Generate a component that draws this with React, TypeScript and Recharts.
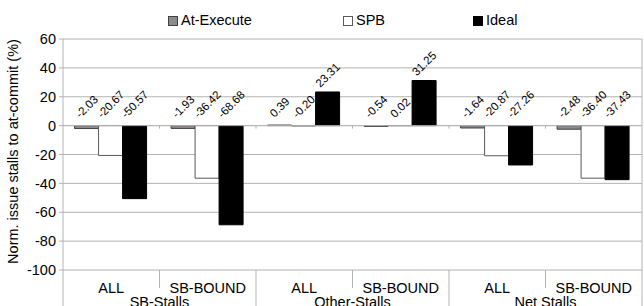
import React from 'react';
import { BarChart, Bar, XAxis, YAxis, CartesianGrid, ReferenceLine, LabelList } from 'recharts';

const groups = ['SB-Stalls', 'Other-Stalls', 'Net Stalls'];
const subCategories = ['ALL', 'SB-BOUND', 'ALL', 'SB-BOUND', 'ALL', 'SB-BOUND'];
const atExecute = [-2.03, -1.93, 0.39, -0.54, -1.64, -2.48];
const spb = [-20.67, -36.42, -0.2, 0.02, -20.87, -36.4];
const ideal = [-50.57, -68.68, 23.31, 31.25, -27.26, -37.43];
const yTicks = [60, 40, 20, 0, -20, -40, -60, -80, -100];
const seriesNames = ['At-Execute', 'SPB', 'Ideal'];
const yTitle = 'Norm. issue stalls to at-commit (%)';

const FONT = '"Liberation Sans", Arial, sans-serif';
const FS = 14.5;
const LABEL_FS = 11.5;
const GRID = '#b3b3b3';

const seriesStyle = [
  { fill: '#8c8c8c', stroke: '#404040' },
  { fill: '#ffffff', stroke: '#595959' },
  { fill: '#000000', stroke: '#000000' },
];

const data = subCategories.map((s, i) => ({
  key: String(i),
  sub: s,
  group: groups[Math.floor(i / 2)],
  atExecute: atExecute[i],
  spb: spb[i],
  ideal: ideal[i],
}));

const charW = (c: string) =>
  c >= '0' && c <= '9' ? 0.556 : c === '.' ? 0.278 : c === '-' ? 0.333 : 0.556;

const renderBarLabel = (props: any) => {
  const { x, y, width, height, value } = props;
  if (value === undefined || value === null) return null;
  const top = Math.min(Number(y), Number(y) + Number(height));
  const cx = Number(x) + Number(width) / 2;
  const text = Number(value).toFixed(2);
  const L = [...text].reduce((s, c) => s + charW(c), 0) * LABEL_FS;
  const h = 0.716 * LABEL_FS;
  const side = 0.707 * (L + h);
  const gap = Number(value) > 1 ? 4 : 7;
  const cy = top - gap - side / 2;
  const mx = cx + 0.354 * h;
  const my = cy + 0.354 * h;
  return (
    <text
      x={mx}
      y={my}
      textAnchor="middle"
      transform={`rotate(-45 ${mx} ${my})`}
      fontFamily={FONT}
      fontSize={LABEL_FS}
      fill="#000"
    >
      {text}
    </text>
  );
};

const XTick = (props: any) => {
  const { x, y, payload, index } = props;
  const half = payload && payload.offset ? payload.offset : 0;
  const d = data[index];
  const elems: any[] = [];
  if (index === 0) {
    elems.push(<line key="l0" x1={x - half} x2={x - half} y1={y} y2={y + 36} stroke={GRID} />);
  }
  const isGroupEnd = index % 2 === 1;
  elems.push(
    <line key="r" x1={x + half} x2={x + half} y1={y} y2={y + (isGroupEnd ? 36 : 18)} stroke={GRID} />
  );
  elems.push(
    <text key="t" x={x} y={y + 23} textAnchor="middle" fontFamily={FONT} fontSize={FS} fill="#000">
      {d ? d.sub : ''}
    </text>
  );
  if (isGroupEnd && d) {
    elems.push(
      <text key="g" x={x - half} y={y + 37} textAnchor="middle" fontFamily={FONT} fontSize={FS} fill="#000">
        {d.group}
      </text>
    );
  }
  return <g>{elems}</g>;
};

const ZeroLine = (p: any) => {
  const { x1, y1, x2, y2 } = p;
  if (x1 === undefined) return null;
  const n = subCategories.length;
  const step = (x2 - x1) / n;
  const ticks = [];
  for (let i = 1; i < n; i++) {
    const tx = x1 + step * i;
    ticks.push(<line key={i} x1={tx} x2={tx} y1={y1} y2={y1 + 3} stroke={GRID} />);
  }
  return (
    <g>
      <line x1={x1} y1={y1} x2={x2} y2={y2} stroke={GRID} />
      {ticks}
    </g>
  );
};

const YTitle = (props: any) => {
  const vb = props.viewBox || {};
  const cy = (vb.y || 39) + (vb.height || 231) / 2 - 3;
  const cx = 13;
  return (
    <text
      x={cx}
      y={cy}
      textAnchor="middle"
      dominantBaseline="central"
      transform={`rotate(-90 ${cx} ${cy})`}
      fontFamily={FONT}
      fontSize={FS}
      fill="#000"
    >
      {yTitle}
    </text>
  );
};

const legendPos = [
  { sq: 168, tx: 181 },
  { sq: 343, tx: 356 },
  { sq: 473, tx: 486 },
];

export default function App() {
  const keys = ['atExecute', 'spb', 'ideal'];
  return (
    <div style={{ position: 'absolute', left: 0, top: 0, width: 644, height: 306, background: '#fff' }}>
      <BarChart
        width={644}
        height={306}
        data={data}
        margin={{ top: 39, right: 2, left: 0, bottom: 0 }}
        barCategoryGap="12%"
        barGap={0}
      >
        <CartesianGrid
          stroke={GRID}
          horizontal={true}
          vertical={true}
          verticalCoordinatesGenerator={(arg: any) => {
            const off = arg && arg.offset ? arg.offset : { left: 63, width: 579 };
            return [off.left + off.width];
          }}
        />
        <XAxis
          dataKey="key"
          height={36}
          axisLine={false}
          tickLine={false}
          tickSize={0}
          tickMargin={0}
          interval={0}
          tick={<XTick />}
        />
        <YAxis
          width={63}
          domain={[-100, 60]}
          ticks={yTicks}
          allowDataOverflow
          axisLine={{ stroke: GRID }}
          tickLine={{ stroke: GRID }}
          tickSize={4}
          tickMargin={3}
          tick={{ fontFamily: FONT, fontSize: FS, fill: '#000' }}
          label={<YTitle />}
        />
        <ReferenceLine y={0} shape={ZeroLine} />
        {keys.map((k, i) => (
          <Bar
            key={k}
            dataKey={k}
            name={seriesNames[i]}
            fill={seriesStyle[i].fill}
            stroke={seriesStyle[i].stroke}
            strokeWidth={1}
            isAnimationActive={false}
          >
            <LabelList dataKey={k} content={renderBarLabel} />
          </Bar>
        ))}
      </BarChart>
      <div style={{ position: 'absolute', left: 0, top: 0, width: 644, height: 36, fontFamily: FONT, fontSize: FS }}>
        {seriesNames.map((n, i) => (
          <React.Fragment key={n}>
            <div
              style={{
                position: 'absolute',
                left: legendPos[i].sq,
                top: 16,
                width: 8,
                height: 8,
                background: seriesStyle[i].fill,
                border: `1px solid ${seriesStyle[i].stroke}`,
              }}
            />
            <div style={{ position: 'absolute', left: legendPos[i].tx, top: 12, lineHeight: '17px', whiteSpace: 'nowrap', color: '#000' }}>
              {n}
            </div>
          </React.Fragment>
        ))}
      </div>
    </div>
  );
}
